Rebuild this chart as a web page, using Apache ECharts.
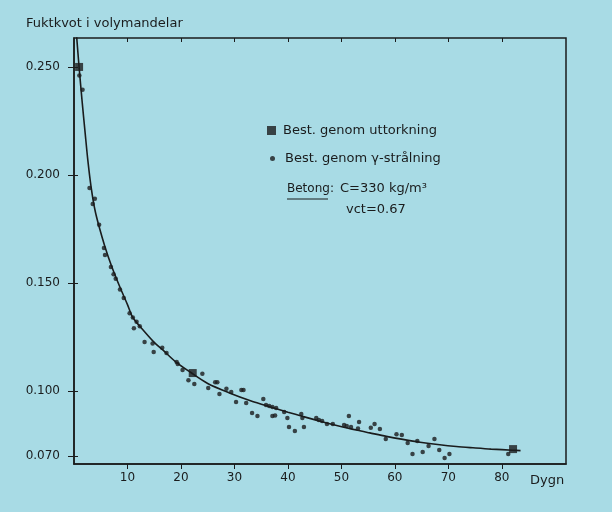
<!DOCTYPE html>
<html>
<head>
<meta charset="utf-8">
<script src="https://cdn.jsdelivr.net/npm/echarts@6/dist/echarts.min.js"></script>
<style>
  html, body { margin: 0; padding: 0; background: #a8dbe5; }
  #chart { width: 612px; height: 512px; }
</style>
</head>
<body>
<div id="chart"></div>
<script>
// Punkter bestämda genom gammastrålning: [dygn, fuktkvot]
const gammaPoints = [
  [1.0, 0.246], [1.6, 0.2394], [2.9, 0.194], [3.9, 0.189], [3.5, 0.1866],
  [4.7, 0.177], [5.6, 0.1662], [5.8, 0.163], [6.9, 0.1574], [7.4, 0.154],
  [7.8, 0.152], [8.6, 0.147], [9.3, 0.143], [10.4, 0.136], [11.0, 0.134],
  [11.7, 0.132], [12.3, 0.130], [11.2, 0.129], [13.2, 0.1227], [14.7, 0.122],
  [14.9, 0.118], [16.5, 0.120], [17.3, 0.1176], [19.2, 0.1134], [19.4, 0.1125],
  [20.3, 0.1097], [24.0, 0.108], [21.4, 0.105], [22.5, 0.1032], [26.4, 0.104],
  [26.8, 0.104], [25.1, 0.1014], [27.2, 0.0986], [28.5, 0.101], [29.4, 0.0995],
  [31.3, 0.1005], [31.7, 0.1005], [30.3, 0.0949], [32.2, 0.0944], [33.3, 0.0898],
  [34.3, 0.0884], [35.4, 0.0963], [35.9, 0.0935], [36.5, 0.0931], [37.1, 0.0926],
  [37.8, 0.0921], [37.1, 0.0884], [37.6, 0.0886], [39.3, 0.0903], [39.9, 0.0875],
  [40.2, 0.0833], [41.3, 0.0815], [42.5, 0.0894], [42.7, 0.0875], [43.0, 0.0833],
  [45.3, 0.0875], [45.8, 0.0866], [46.4, 0.0861], [47.3, 0.0847], [48.4, 0.0847],
  [50.5, 0.0843], [51.0, 0.0838], [51.4, 0.0884], [51.8, 0.0833], [53.3, 0.0857],
  [53.1, 0.0826], [55.5, 0.083], [56.2, 0.0847], [57.2, 0.0824], [58.3, 0.0778],
  [60.3, 0.080], [61.3, 0.0796], [62.4, 0.0759], [63.3, 0.0708], [64.2, 0.0769],
  [65.2, 0.0718], [66.3, 0.0745], [67.4, 0.0778], [68.3, 0.0727], [69.3, 0.069],
  [70.2, 0.0708], [81.2, 0.0708]
];

// Punkter bestämda genom uttorkning
const dryingDays = [0.95, 22.2, 82.1];
const dryingValues = [0.250, 0.1083, 0.0731];

// Anpassad kurva
const curveDays = [0.5, 0.95, 1.5, 2.1, 2.6, 3.2, 3.9, 4.7, 5.8, 7.0, 8.6, 10, 11, 13,
  15, 16.6, 19, 21.7, 25, 29.2, 33, 36.6, 40, 42.8, 46, 49.5, 53, 55.3, 58.4, 61.5,
  64.7, 68.4, 71.5, 74.6, 78, 82, 83.5];
const curveValues = [0.2639, 0.2500, 0.2345, 0.2190, 0.2065, 0.1944, 0.1840, 0.1760,
  0.1667, 0.158, 0.148, 0.140, 0.134, 0.128, 0.1225, 0.119, 0.1135, 0.1088, 0.1035,
  0.099, 0.0955, 0.0927, 0.0902, 0.0882, 0.086, 0.0838, 0.0818, 0.0806, 0.079,
  0.0776, 0.0763, 0.0751, 0.0743, 0.0737, 0.0731, 0.0726, 0.0724];

const xTicks = [10, 20, 30, 40, 50, 60, 70, 80];
const yTicks = [0.070, 0.100, 0.150, 0.200, 0.250];

const ink = "#1a1c1d";
const font = "DejaVu Sans";

const chart = echarts.init(document.getElementById("chart"));

const xBase = { type: "value", min: 0, max: 92, splitLine: { show: false } };
const yBase = { type: "value", min: 0.0662, max: 0.2634, splitLine: { show: false } };

chart.setOption({
  backgroundColor: "#a8dbe5",
  animation: false,
  textStyle: { fontFamily: font, color: ink },
  title: {
    text: "Fuktkvot i volymandelar",
    left: 21, top: 12,
    textStyle: { fontFamily: font, fontSize: 13, fontWeight: "normal", color: ink }
  },
  grid: { left: 74, right: 46, top: 38, bottom: 48, show: true, borderColor: ink, borderWidth: 1.5 },
  xAxis: [
    Object.assign({}, xBase, {
      axisLine: { lineStyle: { color: ink, width: 1.5 } },
      axisTick: { length: 5, lineStyle: { color: ink }, customValues: xTicks },
      axisLabel: { customValues: xTicks, margin: 8, fontSize: 12, color: ink, fontFamily: font }
    }),
    Object.assign({}, xBase, {
      axisLine: { show: false },
      axisTick: { inside: true, length: 4, lineStyle: { color: ink }, customValues: xTicks },
      axisLabel: { show: false }
    })
  ],
  yAxis: [
    Object.assign({}, yBase, {
      axisLine: { lineStyle: { color: ink, width: 1.5 } },
      axisTick: { length: 6, lineStyle: { color: ink }, customValues: yTicks },
      axisLabel: {
        customValues: yTicks, margin: 14, fontSize: 12, color: ink, fontFamily: font,
        formatter: v => v.toFixed(3)
      }
    }),
    Object.assign({}, yBase, {
      position: "left",
      axisLine: { show: false },
      axisTick: { inside: true, length: 4, lineStyle: { color: ink }, customValues: yTicks },
      axisLabel: { show: false }
    })
  ],
  legend: [
    {
      orient: "vertical", left: 262, top: 119, itemWidth: 9, itemHeight: 9,
      data: [{ name: "Best. genom uttorkning", icon: "rect" }],
      textStyle: { fontFamily: font, fontSize: 13, color: ink, padding: [0, 0, 0, 2] }
    },
    {
      orient: "vertical", left: 265, top: 147, itemWidth: 5, itemHeight: 5,
      data: [{ name: "Best. genom γ-strålning", icon: "circle" }],
      textStyle: { fontFamily: font, fontSize: 13, color: ink, padding: [0, 0, 0, 5] }
    }
  ],
  graphic: [
    { type: "text", left: 287, top: 183, style: { text: "Betong:", font: "12px " + font, fill: ink } },
    { type: "line", shape: { x1: 287, y1: 199, x2: 328, y2: 199 }, style: { stroke: ink, lineWidth: 1 } },
    { type: "text", left: 340, top: 182, style: { text: "C=330 kg/m³", font: "13px " + font, fill: ink } },
    { type: "text", left: 346, top: 203, style: { text: "vct=0.67", font: "13px " + font, fill: ink } },
    { type: "text", left: 530, top: 474, style: { text: "Dygn", font: "13px " + font, fill: ink } }
  ],
  series: [
    {
      type: "line",
      data: curveDays.map((d, i) => [d, curveValues[i]]),
      smooth: 0.3,
      symbol: "none",
      lineStyle: { color: ink, width: 1.6 },
      clip: true,
      silent: true
    },
    {
      name: "Best. genom γ-strålning",
      type: "scatter",
      data: gammaPoints,
      symbol: "circle",
      symbolSize: 4.5,
      itemStyle: { color: ink }
    },
    {
      name: "Best. genom uttorkning",
      type: "scatter",
      data: dryingDays.map((d, i) => [d, dryingValues[i]]),
      symbol: "rect",
      symbolSize: 8,
      itemStyle: { color: ink }
    }
  ]
});

window.addEventListener("resize", () => chart.resize());
</script>
</body>
</html>
